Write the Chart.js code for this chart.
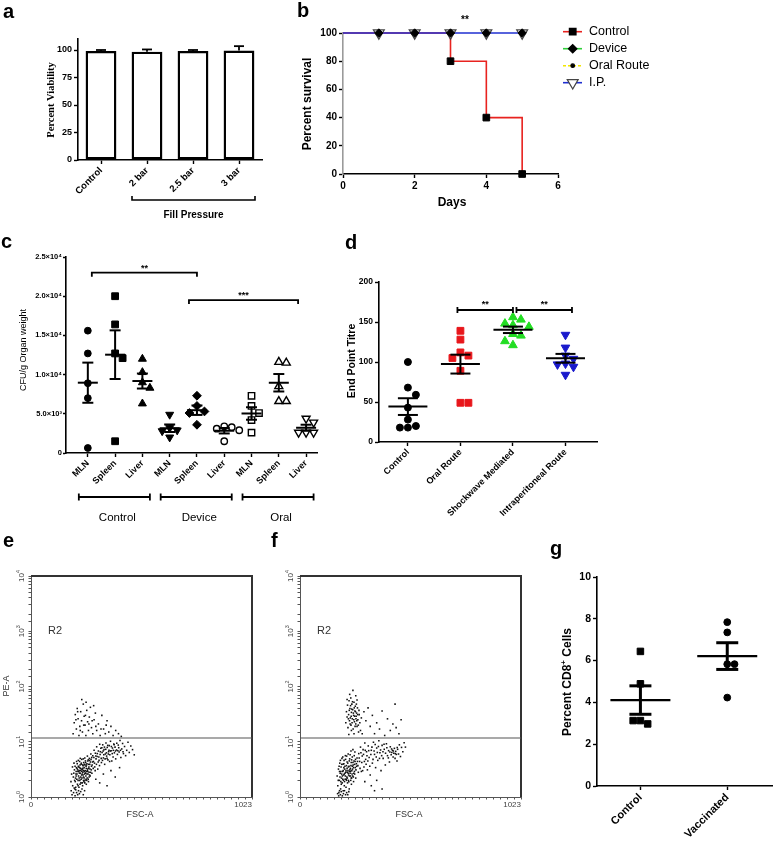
<!DOCTYPE html>
<html>
<head>
<meta charset="utf-8">
<title>Figure</title>
<script src="https://cdn.jsdelivr.net/npm/chart.js@4.4.1/dist/chart.umd.min.js"></script>
<style>
  html, body { margin: 0; padding: 0; background: #fff; }
  body { position: relative; width: 778px; height: 846px; overflow: hidden; font-family: "Liberation Sans", Arial, sans-serif; }
  .p { position: absolute; }
  .tag { position: absolute; z-index: 5; font: bold 20px "Liberation Sans", Arial, sans-serif; line-height: 20px; }
</style>
</head>
<body>
<div class="tag" style="left:3px;top:1px">a</div>
<div class="tag" style="left:297px;top:0px">b</div>
<div class="tag" style="left:1px;top:231px">c</div>
<div class="tag" style="left:345px;top:232px">d</div>
<div class="tag" style="left:3px;top:530px">e</div>
<div class="tag" style="left:271px;top:530px">f</div>
<div class="tag" style="left:550px;top:538px">g</div>
<script>
// ---------- a: viability ----------
const aCats = ['Control', '2 bar', '2.5 bar', '3 bar']
const aMean = [99, 98.5, 99, 99.5]
const aErr = [1, 2, 1, 4]
const aTicks = [0, 25, 50, 75, 100]

// ---------- b: survival ----------
const bDays = [0, 1, 2, 3, 4, 5]
const bControl = [100, 100, 100, 80, 40, 0]
const bDevice = [100, 100, 100, 100, 100, 100]
const bOral = [100, 100, 100, 100, 100, 100]
const bIP = [100, 100, 100, 100, 100, 100]
const bNames = ['Control', 'Device', 'Oral Route', 'I.P.']

// ---------- c: CFU / g organ ----------
const cCats = ['MLN', 'Spleen', 'Liver', 'MLN', 'Spleen', 'Liver', 'MLN', 'Spleen', 'Liver']
const cGroups = ['Control', 'Device', 'Oral']
const cControl = [[15600, 12700, 8900, 7000, 640], [20000, 16400, 12700, 12100, 1500], [12000, 10300, 9000, 8300, 6300]]
const cDevice = [[4900, 3200, 2900, 2800, 2000], [7300, 6000, 5300, 5100, 3600], [3400, 3300, 3100, 2900, 1500]]
const cOral = [[7300, 6000, 5100, 4200, 2600], [11600, 11500, 8500, 6600, 6600], [4400, 3900, 2600, 2600, 2600]]
const cTicks = [0, 5000, 10000, 15000, 20000, 25000]
const cTickLabels = ['0', '5.0×10³', '1.0×10⁴', '1.5×10⁴', '2.0×10⁴', '2.5×10⁴']

// ---------- d: end point titre ----------
const dCats = ['Control', 'Oral Route', 'Shockwave Mediated', 'Intraperitoneal Route']
const dControl = [100, 68, 59, 43, 28, 20, 18, 18]
const dOral = [139, 128, 112, 108, 105, 89, 49, 49]
const dShock = [156, 153, 148, 146, 144, 135, 133, 126, 121]
const dIP = [134, 118, 108, 104, 98, 97, 94, 84]
const dTicks = [0, 50, 100, 150, 200]

// ---------- e, f: flow (FSC-A, PE-A) ----------
const flowGate = 11.7
const eDots = [
  [196,2.3],[201,3.1],[205,1.9],[208,2.6],[210,3.4],[212,2.1],[214,4.0],[215,1.7],[217,2.9],[219,3.6],
  [220,2.4],[222,1.5],[223,3.0],[225,4.4],[226,2.0],[228,2.7],[229,3.3],[231,1.8],[232,3.9],[234,2.5],
  [235,4.8],[236,2.2],[238,3.1],[239,1.6],[240,2.8],[241,3.7],[243,2.3],[244,4.2],[245,1.9],[246,3.4],
  [248,2.6],[249,5.1],[250,2.0],[251,3.0],[252,4.5],[254,2.4],[255,3.6],[256,1.7],[257,2.9],[259,4.0],
  [260,2.2],[261,5.5],[262,3.2],[264,2.6],[265,4.7],[266,1.9],[268,3.5],[269,2.8],[270,5.0],[272,3.9],
  [274,2.4],[275,4.3],[277,6.0],[279,3.1],[281,5.2],
  [186,1.3],[190,1.1],[193,1.6],[197,1.2],[200,1.45],[204,1.05],[207,1.35],[211,1.2],[216,1.1],[220,1.3],
  [224,1.15],[230,1.25],[236,1.4],[242,1.1],[248,1.3],[185,1.9],[188,2.6],[192,3.5],[199,4.1],[203,1.4],
  [206,2.2],[209,2.9],[213,3.3],[218,2.0],[221,3.5],[224,2.7],[227,3.8],[230,2.3],[233,3.2],[237,2.6],
  [240,3.3],[243,2.0],[247,2.9],[250,3.8],[253,2.7],[256,3.3],[258,2.0],[263,2.9],[267,3.3],[271,2.5],
  [198,2.7],[202,2.0],[204,3.6],[207,1.5],[209,2.4],[211,4.4],[213,2.6],[216,3.1],[218,1.6],[219,4.6],
  [221,2.9],[223,2.2],[225,3.4],[227,1.7],[228,5.0],[230,3.0],[232,2.1],[233,4.1],[235,2.9],[237,1.8],
  [239,3.8],[241,2.5],[242,4.9],[244,3.0],[246,2.2],[247,3.9],[249,1.8],[251,2.7],[253,4.2],[255,2.1],
  [257,3.8],[259,2.6],[261,3.0],[263,4.5],[265,2.1],[267,3.9],[269,2.3],[271,4.6],[273,3.2],[276,2.8],
  [278,4.8],[280,3.6],[282,2.7],[285,4.3],[288,3.3],[291,5.2],[294,4.1],[297,3.0],[300,5.5],[303,3.9],
  [283,3.8],[286,5.6],[289,4.4],[292,7.0],[295,3.5],[298,6.2],[301,4.9],[304,8.1],[306,5.4],[309,3.2],
  [312,6.8],[315,4.6],[318,9.0],[320,5.9],[323,7.6],[326,4.2],[329,6.4],[332,8.8],[335,5.1],[338,7.2],
  [341,3.9],[344,6.0],[347,9.5],[350,5.5],[353,7.9],[356,4.7],[359,6.6],[362,8.5],[365,5.8],[368,10.2],
  [371,6.9],[374,4.5],[377,7.7],[380,5.3],[383,9.1],[386,6.3],[389,8.0],[392,4.9],[396,7.1],[400,5.9],
  [404,8.7],[408,6.5],[412,10.5],[416,5.2],[420,7.4],[424,9.3],[428,6.1],[433,8.2],[438,5.6],[443,7.0],
  [449,9.8],[455,6.4],[462,8.4],[470,7.2],[478,5.8],
  [307,6.1],[311,4.3],[314,5.3],[317,3.7],[321,6.6],[325,5.0],[328,7.8],[331,4.6],[334,6.8],[337,5.8],
  [340,8.0],[343,4.9],[346,7.3],[349,6.3],[352,5.0],[355,8.6],[358,6.0],[361,7.0],[364,4.4],[367,6.8],
  [372,8.2],[376,6.1],[381,7.0],[385,8.8],[391,6.8],[397,9.4],[402,6.9],[406,7.8],[414,7.0],[426,6.6],
  [300,2.1],[318,1.8],[335,2.6],[352,1.6],[370,3.0],[390,2.3],[410,3.4],
  [195,14],[200,22],[205,31],[210,17],[214,40],[218,26],[222,13],[226,19],[230,35],[234,24],
  [238,15],[242,48],[246,29],[250,20],[254,13],[258,37],[262,23],[266,16],[270,28],[275,42],
  [280,18],[286,14],[292,25],[298,33],[304,16],[312,21],[320,13],[328,30],[336,17],[344,14],
  [352,24],[360,15],[370,19],[380,13],[392,16],[405,14],[418,12.5],[235,58],[255,52],[290,45],
  [208,25],[216,35],[228,16],[244,20],[252,30],[268,21],[283,24],[300,19],[324,17],[348,20]
]
const fDots = [
  [172,2.4],[175,1.6],[178,3.2],[180,1.2],[182,2.0],[184,4.1],[186,2.7],[188,1.4],[190,3.5],[192,2.2],
  [194,5.0],[195,1.8],[197,2.9],[199,3.9],[200,1.3],[202,2.5],[204,4.6],[205,1.6],[207,3.2],[209,2.1],
  [210,5.6],[212,2.8],[213,1.5],[215,3.7],[217,2.3],[218,4.3],[220,1.8],[222,3.0],[223,6.0],[225,2.5],
  [227,3.6],[228,1.4],[230,4.9],[232,2.7],[233,3.3],[235,2.0],[237,4.2],[238,1.7],[240,3.0],[242,5.3],
  [244,2.4],[246,3.8],[248,1.9],[250,4.5],[252,2.9],[254,6.5],[256,3.4],[258,2.2],[261,4.0],[264,5.1],
  [174,1.15],[179,1.05],[183,1.3],[187,1.1],[191,1.25],[196,1.05],[201,1.15],[206,1.3],[211,1.1],[216,1.2],
  [221,1.1],[226,1.25],[183,2.9],[189,1.9],[193,2.6],[198,2.1],[203,3.4],[208,2.7],[214,2.1],[219,2.8],
  [224,2.0],[229,2.9],[234,2.4],[239,2.2],[243,3.6],[249,2.7],[253,3.9],[257,4.8],[245,7.2],[236,6.8],
  [177,2.0],[181,3.6],[185,2.3],[187,4.6],[189,2.9],[191,1.7],[193,3.9],[196,2.4],[198,5.3],[200,3.0],
  [201,2.0],[203,4.0],[205,2.6],[206,1.9],[208,3.6],[210,2.4],[211,4.8],[213,3.0],[215,2.0],[216,5.5],
  [218,3.3],[219,2.2],[221,4.1],[223,2.7],[224,3.5],[226,1.9],[228,4.5],[229,2.4],[231,3.1],[232,5.8],
  [234,2.9],[236,3.7],[237,2.2],[239,4.7],[241,2.6],[243,3.2],[245,4.2],[247,2.3],[248,3.4],[251,5.6],
  [253,2.6],[255,4.4],[259,3.1],[262,3.6],[266,4.4],[270,2.8],[274,5.1],[278,3.3],[282,6.3],[286,4.2],
  [268,3.7],[272,6.1],[276,4.4],[280,8.0],[284,2.9],[288,5.5],[292,7.2],[296,3.5],[300,9.5],[304,4.8],
  [308,6.6],[312,3.1],[316,8.4],[320,5.2],[325,2.5],[330,7.0],[335,4.1],[340,9.8],[345,5.9],[350,3.4],
  [355,7.7],[360,4.6],[365,10.4],[370,6.3],[375,3.0],[380,8.6],[385,5.0],[390,7.3],[395,3.8],[400,9.2],
  [405,5.6],[410,6.9],[414,4.3],[418,8.1],[422,5.8],[425,6.4],[428,7.0],[431,5.3],[434,6.2],[437,7.6],
  [440,5.0],[443,6.7],[446,5.9],[449,4.5],[452,7.3],[456,6.0],[460,8.8],[465,5.4],[470,7.9],[476,6.6],
  [482,9.6],[488,8.0],[330,1.6],[355,2.0],[380,1.4],[345,1.3],[300,1.9],
  [290,3.0],[294,5.9],[298,4.4],[302,7.0],[306,3.9],[310,5.6],[314,4.5],[318,6.9],[323,3.6],[328,5.9],
  [333,8.0],[338,4.8],[343,6.8],[348,8.9],[353,5.3],[358,6.4],[363,8.2],[368,5.0],[373,7.1],[378,5.6],
  [384,6.6],[389,9.0],[396,6.2],[402,7.8],[409,5.1],[416,6.5],[424,7.4],[432,6.8],[441,6.1],[450,7.9],
  [212,22],[215,35],[218,28],[220,46],[222,18],[225,31],[227,55],[229,24],[231,40],[233,27],
  [235,62],[236,20],[238,34],[240,48],[242,26],[244,38],[246,17],[248,30],[250,52],[252,23],
  [254,36],[256,44],[258,21],[260,29],[262,33],[264,19],[266,41],[268,25],[271,15],[274,31],
  [277,22],[280,16],[284,27],[288,14],[230,72],[245,85],[258,68],[238,16],[250,14],[226,13.5],
  [218,58],[264,57],
  [224,26],[228,37],[232,21],[234,45],[237,29],[239,39],[241,22],[243,53],[247,33],[249,25],
  [251,41],[253,29],[255,19],[257,35],[259,26],[261,48],[263,24],[267,31],[270,20],[273,37],
  [296,35],[305,24],[315,41],[325,19],[335,30],[345,14],[355,22],[368,17],[380,36],[392,13],
  [405,26],[418,16],[430,21],[445,18],[458,14],[468,25],[440,48]
]

// ---------- g: CD8 ----------
const gCats = ['Control', 'Vaccinated']
const gControl = [6.44, 4.89, 3.13, 2.97, 3.13]
const gVacc = [7.84, 7.35, 5.83, 5.83, 4.23]
const gTicks = [0, 2, 4, 6, 8, 10]

// ---------- setup ----------
const SANS = '"Liberation Sans", Arial, sans-serif'
Chart.defaults.font.family = SANS
Chart.defaults.color = '#000'
Chart.defaults.animation = false
Chart.defaults.events = []
Chart.defaults.plugins.legend.display = false
Chart.defaults.plugins.tooltip.enabled = false

// box = plot area in page px, pad = room round it inside the canvas
function mount(box, pad) {
  const left = box.l - pad.l, top = box.t - pad.t
  const w = box.r - box.l + pad.l + pad.r, h = box.b - box.t + pad.t + pad.b
  const div = document.createElement('div')
  div.className = 'p'
  div.style.cssText = `left:${left}px;top:${top}px;width:${w}px;height:${h}px`
  const cv = document.createElement('canvas')
  div.appendChild(cv)
  document.body.appendChild(div)
  return { cv, left, top, pad }
}

function opts(m, scales) {
  return {
    responsive: true, maintainAspectRatio: false,
    layout: { padding: { left: 0, top: m.pad.t, right: m.pad.r, bottom: 0 } },
    scales,
  }
}
function yAx(m, o, g) {
  return Object.assign({
    afterFit: s => { s.width = m.pad.l; s.paddingTop = 0; s.paddingBottom = 0 },
    border: { color: '#000', width: 1.6 },
    grid: Object.assign({ drawOnChartArea: false, tickLength: 4, tickWidth: 1.4, tickColor: '#000' }, g),
  }, o)
}
function xAx(m, o, g) {
  return Object.assign({
    afterFit: s => { s.height = m.pad.b; s.paddingLeft = 0; s.paddingRight = 0 },
    border: { color: '#000', width: 1.6 },
    grid: Object.assign({ drawOnChartArea: false, tickLength: 4, tickWidth: 1.4, tickColor: '#000' }, g),
  }, o)
}
const fixed = vals => s => { s.ticks = vals.map(v => ({ value: v })) }

function seg(ctx, pts, lw, color = '#000') {
  ctx.save()
  ctx.beginPath()
  ctx.lineWidth = lw
  ctx.strokeStyle = color
  pts.forEach(([x, y], i) => (i ? ctx.lineTo(x, y) : ctx.moveTo(x, y)))
  ctx.stroke()
  ctx.restore()
}
function say(ctx, s, x, y, font, o = {}) {
  ctx.save()
  ctx.translate(x, y)
  if (o.rot) ctx.rotate(o.rot)
  ctx.font = font
  ctx.fillStyle = o.color || '#000'
  ctx.textAlign = o.align || 'center'
  ctx.textBaseline = o.base || 'alphabetic'
  ctx.fillText(s, 0, 0)
  ctx.restore()
}
// "base" + raised "sup", centred on x,y
function supText(ctx, base, sup, x, y, size, rot, color, weight = '') {
  ctx.save()
  ctx.translate(x, y)
  ctx.rotate(rot)
  const f1 = `${weight} ${size}px ${SANS}`, f2 = `${weight} ${size * 0.68}px ${SANS}`
  ctx.font = f1
  const w1 = ctx.measureText(base).width
  ctx.font = f2
  const w2 = ctx.measureText(sup).width
  ctx.fillStyle = color
  ctx.textBaseline = 'middle'
  let sx = -(w1 + w2) / 2
  ctx.font = f1
  ctx.fillText(base, sx, 0)
  ctx.font = f2
  ctx.fillText(sup, sx + w1, -size * 0.38)
  ctx.restore()
}

function stats(v) {
  const n = v.length, m = v.reduce((a, b) => a + b, 0) / n
  const sd = Math.sqrt(v.reduce((a, b) => a + (b - m) ** 2, 0) / (n - 1))
  return [m, sd / Math.sqrt(n)]
}
function meanSem(ctx, xs, ys, groups, o) {
  groups.forEach((vals, i) => {
    const [m, se] = stats(vals)
    const px = xs.getPixelForValue(i + 1)
    const pm = ys.getPixelForValue(m), p1 = ys.getPixelForValue(m + se), p0 = ys.getPixelForValue(m - se)
    seg(ctx, [[px - o.mw, pm], [px + o.mw, pm]], o.mlw)
    seg(ctx, [[px, p0], [px, p1]], o.vlw)
    seg(ctx, [[px - o.cw, p0], [px + o.cw, p0]], o.clw)
    seg(ctx, [[px - o.cw, p1], [px + o.cw, p1]], o.clw)
  })
}
// spread overlapping points sideways, returns x offsets in axis units
function swarm(vals, pxX, pxY, d) {
  const placed = []
  return vals.map(v => {
    const py = v * pxY
    let k = 0, ox = 0
    for (;;) {
      ox = k === 0 ? 0 : (k % 2 ? 1 : -1) * Math.ceil(k / 2) * d
      if (placed.every(([qx, qy]) => Math.hypot(qx - ox, qy - py) >= d * 0.95)) break
      k++
    }
    placed.push([ox, py])
    return ox / pxX
  })
}
function dotSets(groups, looks, pxX, pxY, d) {
  return groups.map((vals, i) => {
    const off = swarm(vals, pxX, pxY, d)
    const [shape, rot, fill, r] = looks[i]
    return {
      data: vals.map((v, k) => ({ x: i + 1 + off[k], y: v })),
      pointStyle: shape, pointRotation: rot, pointRadius: r,
      pointBackgroundColor: fill, pointBorderColor: fill === '#fff' ? '#000' : fill,
      pointBorderWidth: fill === '#fff' ? 1.4 : 1,
      clip: false,
    }
  })
}

// ---------- a ----------
const mA = mount({ l: 78, t: 39, r: 262, b: 160 }, { l: 78, t: 39, r: 22, b: 66 })
new Chart(mA.cv, {
  type: 'bar',
  data: {
    labels: aCats,
    datasets: [{ data: aMean, backgroundColor: '#fff', borderColor: '#000', borderWidth: 2.4, borderSkipped: false, barPercentage: 0.67, categoryPercentage: 1 }],
  },
  options: opts(mA, {
    x: xAx(mA, { ticks: { minRotation: 45, maxRotation: 45, padding: 1, font: { size: 9.5, weight: 'bold' } } }, { offset: false }),
    y: yAx(mA, { min: 0, max: 110, afterBuildTicks: fixed(aTicks), ticks: { padding: 2, font: { size: 9, weight: 'bold' } } }),
  }),
  plugins: [{
    id: 'aExtra',
    afterDatasetsDraw(c) {
      const { ctx, scales: { x, y } } = c
      aMean.forEach((v, i) => {
        const px = x.getPixelForValue(i), top = y.getPixelForValue(v + aErr[i])
        seg(ctx, [[px, y.getPixelForValue(v)], [px, top]], 1.8)
        seg(ctx, [[px - 5, top], [px + 5, top]], 1.8)
      })
      const l = x.getPixelForValue(1) - 15, r = x.getPixelForValue(3) + 16, yb = 200 - mA.top
      seg(ctx, [[l, yb - 4], [l, yb], [r, yb], [r, yb - 4]], 1.6)
      say(ctx, 'Fill Pressure', (l + r) / 2, 218 - mA.top, `bold 10px ${SANS}`)
      say(ctx, 'Percent Viability', 51 - mA.left, 100 - mA.top, 'bold 10.5px "Liberation Serif", serif', { rot: -Math.PI / 2, base: 'middle' })
    },
  }],
})

// ---------- b ----------
const mB = mount({ l: 343, t: 33, r: 558, b: 174 }, { l: 53, t: 33, r: 220, b: 41 })
const bPts = arr => bDays.map((d, i) => ({ x: d, y: arr[i] }))
const when = (r, test) => c => (c.raw && test(c.raw) ? r : 0)
const bLegend = [
  { line: '#e8231f', shape: 'rect', r: 4.7, fill: '#000', edge: '#000', rot: 0 },
  { line: '#2fcf3a', shape: 'rectRot', r: 4.2, fill: '#000', edge: '#000', rot: 0 },
  { line: '#f2e600', shape: 'circle', r: 1.8, fill: '#000', edge: '#000', rot: 0, dash: [3, 2] },
  { line: '#1f2fd0', shape: 'triangle', r: 6.3, fill: '#fff', edge: '#444', rot: 180 },
]
new Chart(mB.cv, {
  type: 'line',
  data: {
    datasets: [
      { data: bPts(bOral), showLine: false, pointStyle: 'circle', pointRadius: when(1.8, p => p.x > 0), pointBackgroundColor: '#000', pointBorderWidth: 0, clip: false },
      { data: bPts(bDevice), showLine: false, pointStyle: 'rectRot', pointRadius: when(4.2, p => p.x > 0), pointBackgroundColor: '#000', pointBorderColor: '#000', pointBorderWidth: 1, clip: false },
      { data: bPts(bIP), borderColor: '#1f2fd0', borderWidth: 1.6, pointStyle: 'triangle', pointRotation: 180, pointRadius: when(6.3, p => p.x > 0), pointBackgroundColor: '#fff', pointBorderColor: '#444', pointBorderWidth: 1.2, clip: false },
      { data: bPts(bControl), borderColor: '#e8231f', borderWidth: 1.6, stepped: true, pointStyle: 'rect', pointRadius: when(4.7, p => p.y < 100), pointBackgroundColor: '#000', pointBorderColor: '#000', pointBorderWidth: 1, clip: false },
    ],
  },
  options: opts(mB, {
    x: xAx(mB, { type: 'linear', min: 0, max: 6, ticks: { stepSize: 2, padding: 2, font: { size: 10, weight: 'bold' } } }),
    y: yAx(mB, { min: 0, max: 100, ticks: { stepSize: 20, padding: 2, font: { size: 10, weight: 'bold' } }, border: { color: '#9a9a9a', width: 1.6 } }),
  }),
  plugins: [{
    id: 'bExtra',
    afterDraw(c) {
      const { ctx } = c
      const lx = 563 - mB.left
      bNames.forEach((name, i) => {
        const st = bLegend[i], y = 31.7 + i * 17
        ctx.save()
        ctx.strokeStyle = st.line
        ctx.lineWidth = 1.6
        if (st.dash) ctx.setLineDash(st.dash)
        ctx.beginPath(); ctx.moveTo(lx, y); ctx.lineTo(lx + 19, y); ctx.stroke()
        ctx.restore()
        ctx.save()
        ctx.fillStyle = st.fill; ctx.strokeStyle = st.edge; ctx.lineWidth = 1.2
        Chart.helpers.drawPoint(ctx, { pointStyle: st.shape, radius: st.r, rotation: st.rot, borderWidth: 1.2 }, lx + 9.7, y)
        ctx.restore()
        say(ctx, name, lx + 26, y, `12.5px ${SANS}`, { align: 'left', base: 'middle' })
      })
      say(ctx, '**', 465 - mB.left, 23, `bold 10px ${SANS}`)
      say(ctx, 'Percent survival', 307.5 - mB.left, 104, `bold 12px ${SANS}`, { rot: -Math.PI / 2, base: 'middle' })
      say(ctx, 'Days', 452 - mB.left, 206, `bold 12px ${SANS}`)
    },
  }],
})

// ---------- c ----------
const mC = mount({ l: 66, t: 257, r: 317, b: 453 }, { l: 66, t: 12, r: 18, b: 82 })
const cAll = [...cControl, ...cDevice, ...cOral]
const cLook = [
  ['circle', 0, '#000', 3.4], ['rect', 0, '#000', 4.8], ['triangle', 0, '#000', 4.6],
  ['triangle', 180, '#000', 4.6], ['rectRot', 0, '#000', 4.4], ['circle', 0, '#fff', 3.2],
  ['rect', 0, '#fff', 4.5], ['triangle', 0, '#fff', 4.6], ['triangle', 180, '#fff', 4.6],
]
new Chart(mC.cv, {
  type: 'scatter',
  data: { datasets: dotSets(cAll, cLook, 251 / 9.2, 196 / 25000, 7.5) },
  options: opts(mC, {
    x: xAx(mC, {
      type: 'linear', min: 0.2, max: 9.4, afterBuildTicks: fixed(cCats.map((_, i) => i + 1)),
      ticks: { autoSkip: false, minRotation: 45, maxRotation: 45, padding: 1, font: { size: 9, weight: 'bold' }, callback: v => cCats[v - 1] },
    }),
    y: yAx(mC, { min: 0, max: 25000, afterBuildTicks: fixed(cTicks), ticks: { padding: 1, font: { size: 7.5, weight: 'bold' }, callback: (v, i) => cTickLabels[i] } }, { tickLength: 3 }),
  }),
  plugins: [{
    id: 'cExtra',
    afterDatasetsDraw(c) {
      const { ctx, scales: { x, y } } = c
      meanSem(ctx, x, y, cAll, { mw: 10, cw: 5.5, mlw: 2, clw: 2, vlw: 2 })
      const sig = (x0, x1, v, stars) => {
        const py = y.getPixelForValue(v)
        seg(ctx, [[x0, py + 4], [x0, py], [x1, py], [x1, py + 4]], 1.8)
        say(ctx, stars, (x0 + x1) / 2, py - 2, `bold 9px ${SANS}`)
      }
      sig(x.getPixelForValue(1) + 4, x.getPixelForValue(5), 23000, '**')
      sig(x.getPixelForValue(5) - 8, x.getPixelForValue(9) - 8, 19500, '***')
      const gy = 497 - mC.top
      cGroups.forEach((g, k) => {
        const l = x.getPixelForValue(3 * k + 1) - 9, r = x.getPixelForValue(3 * k + 3) + 7.5
        seg(ctx, [[l, gy - 3.5], [l, gy + 3.5]], 1.8)
        seg(ctx, [[l, gy], [r, gy]], 1.8)
        seg(ctx, [[r, gy - 3.5], [r, gy + 3.5]], 1.8)
        say(ctx, g, (l + r) / 2 + 3, 521 - mC.top, `11.5px ${SANS}`)
      })
      say(ctx, 'CFU/g Organ weight', 24 - mC.left, 350 - mC.top, `9px ${SANS}`, { rot: -Math.PI / 2, base: 'middle' })
    },
  }],
})

// ---------- d ----------
const mD = mount({ l: 379, t: 282, r: 597, b: 442 }, { l: 39, t: 20, r: 23, b: 103 })
const dAll = [dControl, dOral, dShock, dIP]
const dLook = [['circle', 0, '#000', 3.5], ['rect', 0, '#e8161b', 4.8], ['triangle', 0, '#22dd22', 5], ['triangle', 180, '#1a1acc', 5]]
new Chart(mD.cv, {
  type: 'scatter',
  data: { datasets: dotSets(dAll, dLook, 218 / 4.15, 160 / 200, 8) },
  options: opts(mD, {
    x: xAx(mD, {
      type: 'linear', min: 0.45, max: 4.6, afterBuildTicks: fixed(dCats.map((_, i) => i + 1)),
      ticks: { autoSkip: false, minRotation: 45, maxRotation: 45, padding: 1, font: { size: 9, weight: 'bold' }, callback: v => dCats[v - 1] },
    }),
    y: yAx(mD, { min: 0, max: 200, afterBuildTicks: fixed(dTicks), ticks: { padding: 2, font: { size: 8.5, weight: 'bold' } } }),
  }),
  plugins: [{
    id: 'dExtra',
    afterDatasetsDraw(c) {
      const { ctx, scales: { x, y } } = c
      meanSem(ctx, x, y, dAll, { mw: 19.5, cw: 10, mlw: 2, clw: 2, vlw: 2 })
      const py = y.getPixelForValue(165)
      const br = (x0, x1) => {
        seg(ctx, [[x0, py - 3], [x0, py + 3]], 1.8)
        seg(ctx, [[x0, py], [x1, py]], 1.8)
        seg(ctx, [[x1, py - 3], [x1, py + 3]], 1.8)
        say(ctx, '**', (x0 + x1) / 2, py - 3, `bold 9px ${SANS}`)
      }
      br(x.getPixelForValue(2) - 3, x.getPixelForValue(3))
      br(x.getPixelForValue(3) + 3.5, x.getPixelForValue(4) + 6.5)
      say(ctx, 'End Point Titre', 352.5 - mD.left, 361 - mD.top, `bold 10.5px ${SANS}`, { rot: -Math.PI / 2, base: 'middle' })
    },
  }],
})

// ---------- e, f ----------
function flow(m, dots, withTitle) {
  const g = { tickLength: 2.5, tickWidth: 1, tickColor: '#555' }
  new Chart(m.cv, {
    type: 'scatter',
    data: { datasets: [{ data: dots.map(([x, y]) => ({ x, y })), pointStyle: 'rect', pointRadius: 1.1, pointBackgroundColor: '#111', pointBorderWidth: 0 }] },
    options: opts(m, {
      x: xAx(m, {
        min: 0, max: 1023,
        afterBuildTicks: s => { const t = []; for (let v = 0; v < 1023; v += 32) t.push({ value: v }); t.push({ value: 1023 }); s.ticks = t },
        ticks: { autoSkip: false, callback: () => '' }, border: { color: '#555', width: 1 },
      }, g),
      y: yAx(m, { type: 'logarithmic', min: 1, max: 10000, ticks: { autoSkip: false, callback: () => '' }, border: { color: '#555', width: 1 } }, g),
    }),
    plugins: [{
      id: 'flowExtra',
      afterDraw(c) {
        const { ctx, chartArea: a, scales: { x, y } } = c
        seg(ctx, [[a.left, a.top], [a.right, a.top], [a.right, a.bottom]], 2, '#333')
        const gy = y.getPixelForValue(flowGate)
        seg(ctx, [[a.left, gy], [a.right, gy]], 1.2, '#555')
        for (let k = 0; k <= 4; k++) supText(ctx, '10', String(k), a.left - 9, y.getPixelForValue(10 ** k), 8, -Math.PI / 2, '#444')
        say(ctx, '0', x.getPixelForValue(0), a.bottom + 10, `8px ${SANS}`, { color: '#444' })
        say(ctx, '1023', x.getPixelForValue(1023), a.bottom + 10, `8px ${SANS}`, { color: '#444', align: 'right' })
        say(ctx, 'FSC-A', a.left + 109, a.bottom + 20, `9px ${SANS}`, { color: '#333' })
        say(ctx, 'R2', a.left + 17, a.top + 58, `11px ${SANS}`, { color: '#333', align: 'left' })
        if (withTitle) say(ctx, 'PE-A', 6.5 - m.left, 686 - m.top, `9px ${SANS}`, { color: '#333', rot: -Math.PI / 2, base: 'middle' })
      },
    }],
  })
}
flow(mount({ l: 31, t: 576, r: 252, b: 797 }, { l: 31, t: 11, r: 10, b: 28 }), eDots, true)
flow(mount({ l: 300, t: 576, r: 521, b: 797 }, { l: 30, t: 11, r: 11, b: 28 }), fDots, false)

// ---------- g ----------
const mG = mount({ l: 597, t: 577, r: 778, b: 786 }, { l: 57, t: 17, r: 0, b: 60 })
const gAll = [gControl, gVacc]
const gLook = [['rect', 0, '#000', 4.6], ['circle', 0, '#000', 3.4]]
new Chart(mG.cv, {
  type: 'scatter',
  data: { datasets: dotSets(gAll, gLook, 181 / 2.02, 209 / 10, 7.5) },
  options: opts(mG, {
    x: xAx(mG, {
      type: 'linear', min: 0.5, max: 2.52, afterBuildTicks: fixed([1, 2]),
      ticks: { autoSkip: false, minRotation: 45, maxRotation: 45, padding: 1, font: { size: 11, weight: 'bold' }, callback: v => gCats[v - 1] },
    }),
    y: yAx(mG, { min: 0, max: 10, afterBuildTicks: fixed(gTicks), ticks: { padding: 2, font: { size: 10.5, weight: 'bold' } } }),
  }),
  plugins: [{
    id: 'gExtra',
    afterDatasetsDraw(c) {
      const { ctx, scales: { x, y } } = c
      meanSem(ctx, x, y, gAll, { mw: 30, cw: 11, mlw: 2.2, clw: 3, vlw: 3 })
      ctx.save()
      ctx.translate(568 - mG.left, 682 - mG.top)
      ctx.rotate(-Math.PI / 2)
      const f1 = `bold 12px ${SANS}`, f2 = `bold 8px ${SANS}`
      ctx.font = f1
      const w1 = ctx.measureText('Percent CD8').width, w3 = ctx.measureText(' Cells').width
      ctx.font = f2
      const w2 = ctx.measureText('+').width
      let sx = -(w1 + w2 + w3) / 2
      ctx.fillStyle = '#000'
      ctx.textBaseline = 'middle'
      ctx.font = f1; ctx.fillText('Percent CD8', sx, 0); sx += w1
      ctx.font = f2; ctx.fillText('+', sx, -4); sx += w2
      ctx.font = f1; ctx.fillText(' Cells', sx, 0)
      ctx.restore()
    },
  }],
})
</script>
</body>
</html>
